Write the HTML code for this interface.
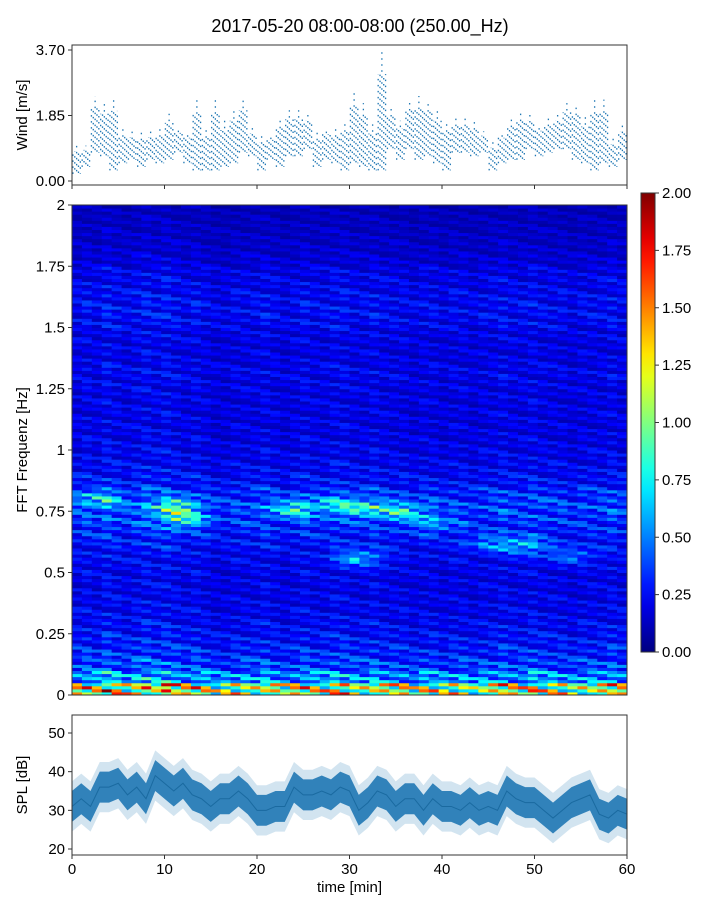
<!DOCTYPE html>
<html><head><meta charset="utf-8"><style>
body{margin:0;background:#fff;}
svg{display:block;font-family:"Liberation Sans",sans-serif;}
</style></head><body>
<svg id="fig" width="720" height="900" viewBox="0 0 720 900">
<text x="360" y="32" font-size="18" text-anchor="middle">2017-05-20 08:00-08:00 (250.00_Hz)</text>
<g id="wind"></g>
<g id="spec"></g>
<g id="cbar"></g>
<g id="spl"></g>
<text transform="translate(27,115) rotate(-90)" font-size="15" text-anchor="middle">Wind [m/s]</text>
<text transform="translate(27,450) rotate(-90)" font-size="15" text-anchor="middle">FFT Frequenz [Hz]</text>
<text transform="translate(27,785) rotate(-90)" font-size="15" text-anchor="middle">SPL [dB]</text>
<text x="349.5" y="892" font-size="15" text-anchor="middle">time [min]</text>
</svg>
<script>
// ---- data ----
const windLo=[0.2,0.4,0.8,0.7,0.3,0.5,0.6,0.4,0.6,0.5,0.6,0.8,0.5,0.3,0.3,0.3,0.4,0.5,0.8,0.7,0.3,0.6,0.4,0.7,0.7,0.9,0.4,0.6,0.5,0.3,0.5,0.4,0.3,0.3,0.9,0.6,0.9,0.6,0.7,0.5,0.3,0.8,0.8,0.7,0.8,0.3,0.5,0.6,0.6,0.9,0.7,0.8,0.9,0.9,0.6,0.5,0.3,0.5,0.4,0.6];
const windHi=[1.0,1.0,2.4,2.2,2.4,1.5,1.4,1.4,1.4,1.5,1.9,1.5,1.4,2.3,1.5,2.3,1.7,2.0,2.3,1.5,1.3,1.3,1.8,2.0,2.0,1.9,1.4,1.5,1.5,1.7,2.5,2.2,1.6,3.7,2.1,1.7,2.3,2.4,2.3,2.0,1.7,1.8,1.8,1.7,1.4,1.1,1.4,1.8,2.0,1.9,1.6,1.8,1.9,2.2,2.2,1.8,2.3,2.3,1.2,1.6];
const splMean=[31,33,31,36,36,37,34,36,33,39,37,35,37,34,33,31,33,33,35,33,30,30,31,31,36,34,34,35,34,36,35,30,32,35,34,31,33,33,30,33,31,31,30,32,30,31,30,35,33,32,32,30,28,30,32,33,34,29,28,30,29];
const freqProfile=[1.15,0.55,0.38,0.32,0.28,0.25,0.23,0.22,0.21,0.21,0.22,0.24,0.28,0.32,0.36,0.38,0.34,0.27,0.24,0.22,0.21,0.2,0.2,0.2,0.2,0.21,0.22,0.2,0.2,0.21,0.24,0.25,0.24,0.22,0.21,0.17,0.15,0.14,0.13,0.12];
const colGain=[1.0,1.1,1.0,1.2,1.1,1.0,1.1,1.2,1.1,1.2,1.1,1.0,1.1,1.0,0.9,0.9,1.0,1.0,1.0,1.1,1.0,0.9,1.0,1.1,1.0,1.0,1.1,1.1,1.0,1.0,1.1,1.0,1.0,1.0,0.9,1.0,1.0,0.9,1.0,1.0,0.9,1.0,1.0,1.1,1.0,1.0,1.1,1.0,1.0,1.0,0.9,1.0,1.0,1.0,1.1,1.0];
const hotT=[3,11,12,24,29,32,31,36,39,49,54,45];
const hotF=[0.8,0.77,0.72,0.76,0.78,0.76,0.56,0.75,0.7,0.61,0.57,0.62];
const hotV=[0.35,0.5,0.45,0.45,0.35,0.4,0.4,0.4,0.25,0.35,0.25,0.25];
const xTicks=[0,10,20,30,40,50,60];
const windTicks=[0,1.85,3.7];
const freqTicks=[0,0.25,0.5,0.75,1,1.25,1.5,1.75,2];
const freqLabels=["0","0.25","0.5","0.75","1","1.25","1.5","1.75","2"];
const splTicks=[20,30,40,50];
const cbTicks=[0,0.25,0.5,0.75,1,1.25,1.5,1.75,2];

const NS="http://www.w3.org/2000/svg";
function mk(tag,attrs,parent){const e=document.createElementNS(NS,tag);for(const k in attrs)e.setAttribute(k,attrs[k]);parent.appendChild(e);return e;}
const X0=72,X1=627;
const xs=t=>X0+(X1-X0)*t/60;
function jet(v){let x=Math.max(0,Math.min(1,v/2));const c=a=>Math.round(255*Math.max(0,Math.min(1,1.5-Math.abs(4*x-a))));return `rgb(${c(3)},${c(2)},${c(1)})`;}

function frame(g,top,bot,name){
  const r=mk('rect',{x:X0,y:top,width:X1-X0,height:bot-top,fill:'none',stroke:'#333','stroke-width':1},g);
  
  
}
function xTickMarks(g,bot,labels){
  xTicks.forEach(t=>{
    const l=mk('line',{x1:xs(t),x2:xs(t),y1:bot,y2:bot+4,stroke:'#333'},g);
    
    
    if(labels){const tx=mk('text',{x:xs(t),y:bot+19,'font-size':15,'text-anchor':'middle'},g);tx.textContent=t;
      
      }
  });
}
function yTick(g,y,label){
  const l=mk('line',{x1:X0-4,x2:X0,y1:y,y2:y,stroke:'#333'},g);
  
  
  const tx=mk('text',{x:X0-7,y:y+5,'font-size':15,'text-anchor':'end'},g);tx.textContent=label;
  
  
}

// ---- wind ----
(function(){
  const g=document.getElementById('wind');
  const ys=v=>181-131*v/3.7;
  const offs=[0.1,0.3,0.5,0.7,0.9];
  windLo.forEach((lo,i)=>{
    offs.forEach((o,k)=>{
      const hi=windHi[i]*(k===2?1:0.8)+lo*(k===2?0:0.2);
      const l=mk('line',{x1:xs(i+o),x2:xs(i+o),y1:ys(lo),y2:ys(hi),stroke:'#1f77b4','stroke-width':1.3,'stroke-dasharray':'1.5,4.5','stroke-dashoffset':k*1.7},g);
      
      
    });
  });
  frame(g,45,185,'wind-axes-frame');
  xTickMarks(g,185,false);
  windTicks.forEach(v=>yTick(g,ys(v),v.toFixed(2)));
})();

// ---- spectrogram ----
(function(){
  const g=document.getElementById('spec');
  const T=205,B=695,NC=colGain.length,NB=freqProfile.length,SUB=4;
  const ys=f=>B-(B-T)*f/2;
  const cw=(X1-X0)/NC;
  const subMul=[1.3,0.6,1.45,0.8,1.1,0.5,1.35,0.9,0.7,1.2,0.55];
  for(let c=0;c<NC;c++){
    const t=(c+0.5)*60/NC;
    for(let b=0;b<NB;b++){
      for(let s=0;s<SUB;s++){
        const f=(b+(s+0.5)/SUB)*0.05;
        let v=freqProfile[b]*colGain[c]*subMul[(s*3+b*5+c*7)%11];
        for(let h=0;h<hotT.length;h++){
          v+=hotV[h]*subMul[(s+c)%11]*Math.exp(-Math.pow((t-hotT[h])/2.5,2)-Math.pow((f-hotF[h])/0.035,2));
        }
        const y0=ys(b*0.05+s*0.05/SUB), y1=ys(b*0.05+(s+1)*0.05/SUB);
        const r=mk('rect',{x:X0+c*cw,y:y1,width:cw+0.5,height:y0-y1+0.5,fill:jet(v)},g);
        
        
      }
    }
  }
  frame(g,T,B,'spectrogram-axes-frame');
  freqTicks.forEach((f,i)=>yTick(g,ys(f),freqLabels[i]));
})();

// ---- colorbar ----
(function(){
  const g=document.getElementById('cbar');
  const defs=mk('defs',{},g);
  const lg=mk('linearGradient',{id:'jetg',x1:0,y1:1,x2:0,y2:0},defs);
  for(let i=0;i<=20;i++)mk('stop',{offset:i/20,'stop-color':jet(i/10)},lg);
  const T=193,B=652;
  const r=mk('rect',{x:641,y:T,width:14,height:B-T,fill:'url(#jetg)',stroke:'#333'},g);
  
  
  cbTicks.forEach(v=>{
    const y=B-(B-T)*v/2;
    const l=mk('line',{x1:655,x2:659,y1:y,y2:y,stroke:'#333'},g);
    
    
    const tx=mk('text',{x:662,y:y+5,'font-size':15},g);tx.textContent=v.toFixed(2);
    
    
  });
})();

// ---- SPL ----
(function(){
  const g=document.getElementById('spl');
  const ys=v=>849-(849-733)*(v-20)/30;
  function band(w,op,name){
    let up=splMean.map((m,i)=>xs(i)+','+ys(m+w)).join(' ');
    let dn=splMean.map((m,i)=>xs(i)+','+ys(m-w)).reverse().join(' ');
    const p=mk('polygon',{points:up+' '+dn,fill:'#1f77b4','fill-opacity':op},g);
    
    
  }
  band(6.5,0.2,'spl-envelope-light');
  band(4,0.9,'spl-envelope-dark');
  const ln=mk('polyline',{points:splMean.map((m,i)=>xs(i)+','+ys(m)).join(' '),fill:'none',stroke:'#1a6aa0','stroke-width':1},g);
  
  
  frame(g,715,855,'spl-axes-frame');
  xTickMarks(g,855,true);
  splTicks.forEach(v=>yTick(g,ys(v),v));
})();
</script>
</body></html>
